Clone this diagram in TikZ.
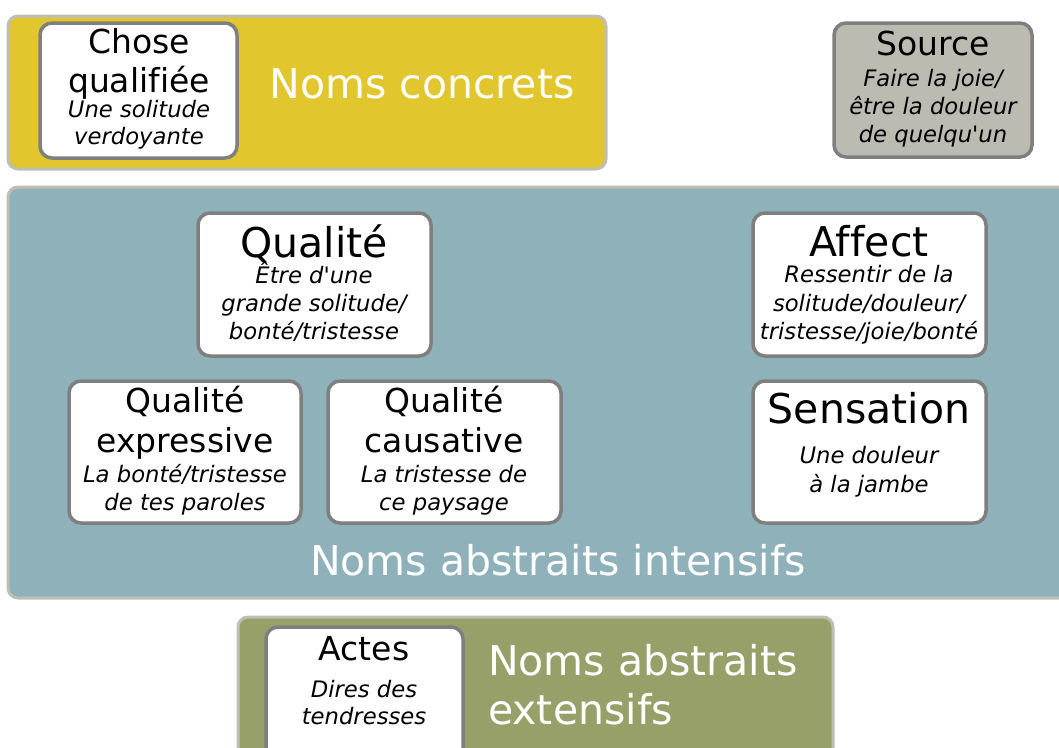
\documentclass[tikz,border=0pt]{standalone}
\usepackage{fontspec}
\setmainfont{DejaVu Sans}[Ligatures={TeXOff,NoCommon}]
\usepackage{xcolor}

\definecolor{concret}{HTML}{E1C62D}
\definecolor{intensif}{HTML}{8FB1BA}
\definecolor{extensif}{HTML}{97A069}
\definecolor{sourcegray}{HTML}{BBBBB2}
\definecolor{panelline}{HTML}{BEBEB6}
\definecolor{cardline}{HTML}{7F7F7F}

\begin{document}
\begin{tikzpicture}[x=1pt,y=-1pt,
	panel/.style={draw=panelline,line width=3pt,rounded corners=10pt},
	card/.style={draw=cardline,fill=white,line width=3.5pt,rounded corners=12pt},
	bigname/.style={text=white,inner sep=0pt,font=\fontsize{41}{49}\selectfont,anchor=base},
	title/.style={inner sep=0pt,font=\fontsize{33}{39}\selectfont,anchor=base},
	bigtitle/.style={inner sep=0pt,font=\fontsize{41}{49}\selectfont,anchor=base},
	example/.style={inner sep=0pt,font=\fontsize{22.7}{28}\selectfont\itshape,anchor=base}]
	\useasboundingbox (0,0) rectangle (1059,747);
	\clip (0,0) rectangle (1059,747);
	
	% panels
	\draw[panel,fill=concret] (8,16) rectangle (606,169);
	\draw[panel,fill=intensif] (8,187) rectangle (1075,598);
	\draw[panel,fill=extensif] (238,617) rectangle (833,770);
	
	% Noms concrets
	\draw[card] (40,23) rectangle (237,158);
	\node[title] (chose1) at (139,53) {Chose};
	\node[title] (chose2) at (139,92) {qualifiée};
	\node[example] (chose3) at (139,117) {Une solitude};
	\node[example] (chose4) at (139,144) {verdoyante};
	\node[bigname] (concrets) at (422,98) {Noms concrets};
	
	\draw[card,fill=sourcegray] (834,23) rectangle (1032,157);
	\node[title] (source1) at (933,55) {Source};
	\node[example] (source2) at (933,86) {Faire la joie/};
	\node[example] (source3) at (933,114) {être la douleur};
	\node[example] (source4) at (933,142) {de quelqu'un};
	
	% Noms abstraits intensifs
	\draw[card] (198,213) rectangle (431,356);
	\node[bigtitle] (qualite1) at (314,257) {Qualité};
	\node[example] (qualite2) at (314,283) {Être d'une};
	\node[example] (qualite3) at (314,311) {grande solitude/};
	\node[example] (qualite4) at (314,339) {bonté/tristesse};
	
	\draw[card] (69,381) rectangle (301,523);
	\node[title] (express1) at (185,412) {Qualité};
	\node[title] (express2) at (185,452) {expressive};
	\node[example] (express3) at (185,482) {La bonté/tristesse};
	\node[example] (express4) at (185,510) {de tes paroles};
	
	\draw[card] (328,381) rectangle (561,523);
	\node[title] (causat1) at (444,412) {Qualité};
	\node[title] (causat2) at (444,452) {causative};
	\node[example] (causat3) at (444,482) {La tristesse de};
	\node[example] (causat4) at (444,510) {ce paysage};
	
	\draw[card] (753,213) rectangle (986,356);
	\node[bigtitle] (affect1) at (869,256) {Affect};
	\node[example] (affect2) at (869,282) {Ressentir de la};
	\node[example] (affect3) at (869,311) {solitude/douleur/};
	\node[example] (affect4) at (869,339) {tristesse/joie/bonté};
	
	\draw[card] (753,381) rectangle (986,523);
	\node[bigtitle] (sensat1) at (869,423) {Sensation};
	\node[example] (sensat2) at (869,463) {Une douleur};
	\node[example] (sensat3) at (869,492) {à la jambe};
	
	\node[bigname] (intensifs) at (558,575) {Noms abstraits intensifs};
	
	% Noms abstraits extensifs
	\draw[card] (266,627) rectangle (463,770);
	\node[title] (actes1) at (364,660) {Actes};
	\node[example] (actes2) at (364,697) {Dires des};
	\node[example] (actes3) at (364,724) {tendresses};
	\node[bigname,anchor=base west] (extensifs1) at (488,675) {Noms abstraits};
	\node[bigname,anchor=base west] (extensifs2) at (488,724) {extensifs};
	
\end{tikzpicture}
\end{document}
